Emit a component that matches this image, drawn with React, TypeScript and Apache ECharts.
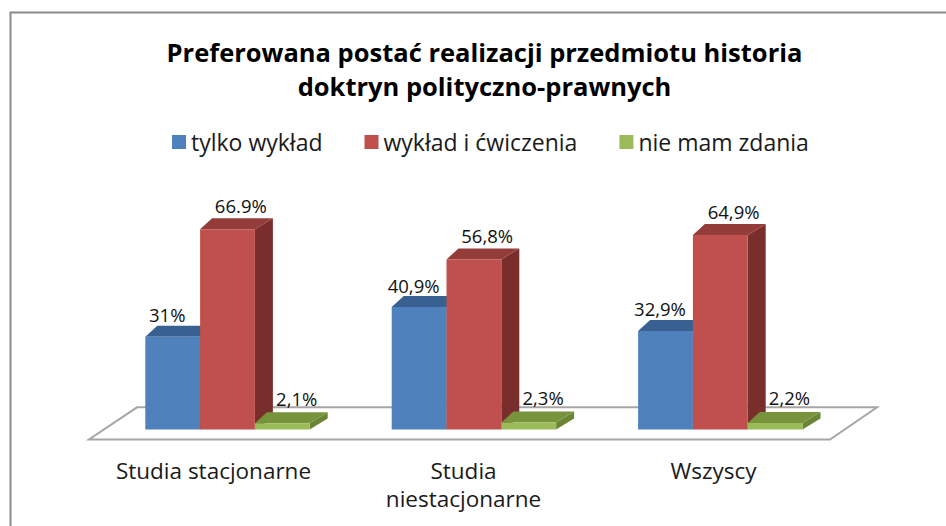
import React, { useEffect, useRef } from "react";
import * as echarts from "echarts";

const titleText = "Preferowana postać realizacji przedmiotu historia\ndoktryn polityczno-prawnych";
const categories = ["Studia stacjonarne", "Studia\nniestacjonarne", "Wszyscy"];
const seriesNames = ["tylko wykład", "wykład i ćwiczenia", "nie mam zdania"];
const onlyLecture = [31, 40.9, 32.9];
const lectureAndClasses = [66.9, 56.8, 64.9];
const noOpinion = [2.1, 2.3, 2.2];
const onlyLectureLabels = ["31%", "40,9%", "32,9%"];
const lectureAndClassesLabels = ["66.9%", "56,8%", "64,9%"];
const noOpinionLabels = ["2,1%", "2,3%", "2,2%"];

const FONT = "'Open Sans', 'Noto Sans', 'Liberation Sans', sans-serif";

type Face = { front: string; top: string; side: string };

function makeRender(slot: number, colors: Face, labels: string[], labelDx: number, labelDy: number) {
  return (params: any, api: any) => {
    const cat = api.value(0);
    const val = api.value(1);
    const base = api.coord([cat, 0]);
    const topPt = api.coord([cat, val]);
    const catW = api.size([1, 0])[0];
    const barW = catW * 0.2224;
    const left = base[0] - 1.5 * barW + slot * barW;
    const right = left + barW;
    const b = base[1];
    const t = topPt[1];
    const dxR = 18;
    const dxL = 12;
    const dy = -11;
    return {
      type: "group",
      children: [
        {
          type: "polygon",
          shape: { points: [[right, t], [right + dxR, t + dy], [right + dxR, b + dy], [right, b]] },
          style: { fill: colors.side },
        },
        {
          type: "polygon",
          shape: { points: [[left, t], [right, t], [right + dxR, t + dy], [left + dxL, t + dy]] },
          style: { fill: colors.top },
        },
        {
          type: "rect",
          shape: { x: left, y: t, width: barW, height: b - t },
          style: { fill: colors.front },
        },
        {
          type: "text",
          x: left + barW / 2 + labelDx,
          y: t + labelDy,
          style: {
            text: labels[params.dataIndex],
            fill: "#111111",
            font: `18.5px ${FONT}`,
            align: "center",
            verticalAlign: "middle",
          },
        },
      ],
    };
  };
}

const blue: Face = { front: "#4F81BD", top: "#386192", side: "#2f5078" };
const red: Face = { front: "#C0504D", top: "#933c39", side: "#7a2e2c" };
const green: Face = { front: "#9BBB59", top: "#77933C", side: "#6a8535" };

export default function App() {
  const ref = useRef<HTMLDivElement>(null);
  useEffect(() => {
    if (!ref.current) return;
    const chart = echarts.init(ref.current, undefined, { renderer: "svg" });
    const toData = (arr: number[]) => arr.map((v, i) => [i, v]);
    chart.setOption({
      animation: false,
      backgroundColor: "#ffffff",
      title: {
        text: titleText,
        left: 484.5,
        top: 35,
        textAlign: "center",
        padding: 0,
        textStyle: {
          fontFamily: FONT,
          fontWeight: "bold",
          fontSize: 25.5,
          lineHeight: 34,
          color: "#000000",
        },
      },
      legend: {
        data: seriesNames,
        left: 172,
        top: 129,
        padding: 0,
        itemWidth: 14,
        itemHeight: 14,
        itemGap: 42,
        icon: "rect",
        textStyle: { fontFamily: FONT, fontSize: 23, color: "#1a1a1a", lineHeight: 26 },
      },
      graphic: [
        {
          type: "rect",
          shape: { x: 10.5, y: 12.5, width: 1000, height: 600 },
          style: { fill: "none", stroke: "#8a8a8a", lineWidth: 2 },
          z: 0,
        },
        {
          type: "polygon",
          shape: { points: [[89, 439.5], [830, 439.5], [877, 407.3], [137, 407.3]] },
          style: { fill: "#ffffff", stroke: "#a6a6a6", lineWidth: 2 },
          z: 0,
        },
      ],
      grid: [
        { left: 104.3, width: 739.2, top: 189.9, height: 239.6 },
        { left: 88.5, width: 750, top: 189.9, height: 250 },
      ],
      xAxis: [
        { type: "category", data: categories, gridIndex: 0, show: false },
        {
          type: "category",
          data: categories,
          gridIndex: 1,
          axisLine: { show: false },
          axisTick: { show: false },
          splitLine: { show: false },
          axisLabel: {
            fontFamily: FONT,
            fontSize: 22.5,
            lineHeight: 28,
            color: "#1a1a1a",
            margin: 17,
            interval: 0,
          },
        },
      ],
      yAxis: [
        { type: "value", min: 0, max: 80, gridIndex: 0, show: false },
        { type: "value", min: 0, max: 80, gridIndex: 1, show: false },
      ],
      series: [
        {
          name: seriesNames[0],
          type: "custom",
          xAxisIndex: 0,
          yAxisIndex: 0,
          itemStyle: { color: blue.front },
          renderItem: makeRender(0, blue, onlyLectureLabels, -5.5, -22),
          data: toData(onlyLecture),
        },
        {
          name: seriesNames[1],
          type: "custom",
          xAxisIndex: 0,
          yAxisIndex: 0,
          itemStyle: { color: red.front },
          renderItem: makeRender(1, red, lectureAndClassesLabels, 13.3, -23.5),
          data: toData(lectureAndClasses),
        },
        {
          name: seriesNames[2],
          type: "custom",
          xAxisIndex: 0,
          yAxisIndex: 0,
          itemStyle: { color: green.front },
          renderItem: makeRender(2, green, noOpinionLabels, 14.4, -25),
          data: toData(noOpinion),
        },
      ],
    });
    return () => chart.dispose();
  }, []);
  return (
    <div
      ref={ref}
      style={{ position: "fixed", left: 0, top: 0, width: 946, height: 526, background: "#fff" }}
    />
  );
}
